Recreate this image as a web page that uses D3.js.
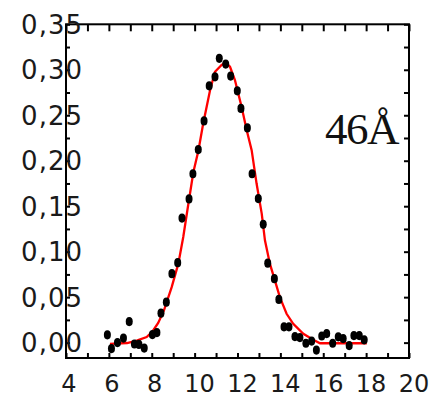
<!DOCTYPE html>
<html>
<head>
<meta charset="utf-8">
<script src="https://cdn.jsdelivr.net/npm/d3@7"></script>
<style>
  html, body { margin: 0; padding: 0; background: #fff; }
  svg { display: block; }
  .ylab { font-family: "DejaVu Sans", sans-serif; font-size: 26px; fill: #1a1a1a; }
  .xlab { font-family: "DejaVu Sans", sans-serif; font-size: 24px; fill: #1a1a1a; }
  .tag { font-family: "Liberation Serif", serif; font-size: 45px; fill: #111; letter-spacing: -1.5px; }
</style>
</head>
<body>
<div id="fig"><svg width="440" height="398"></svg></div>
<script>
// measured points (x, intensity)
const pointX = [5.93, 6.12, 6.40, 6.68, 6.95, 7.19, 7.40, 7.65, 8.03, 8.24,
                8.43, 8.68, 8.94, 9.21, 9.41, 9.74, 9.92, 10.17, 10.44, 10.68,
                10.95, 11.15, 11.45, 11.68, 11.99, 12.16, 12.46, 12.68, 12.97, 13.20,
                13.41, 13.72, 13.93, 14.17, 14.40, 14.68, 14.91, 15.19, 15.46, 15.68,
                15.93, 16.16, 16.44, 16.70, 16.93, 17.21, 17.43, 17.68, 17.91];
const pointY = [0.0086, -0.0065, 0.0001, 0.0050, 0.0232, -0.0015, -0.0020, -0.0060, 0.0089, 0.0110,
                0.0324, 0.0445, 0.0758, 0.0879, 0.1370, 0.1580, 0.1857, 0.2123, 0.2438, 0.2824,
                0.2923, 0.3126, 0.3063, 0.2931, 0.2769, 0.2575, 0.2361, 0.1857, 0.1584, 0.1301,
                0.0874, 0.0703, 0.0475, 0.0174, 0.0174, 0.0067, 0.0056, -0.0007, 0.0017, -0.0082,
                0.0073, 0.0100, -0.0007, 0.0064, 0.0045, -0.0032, 0.0078, 0.0078, 0.0031];

// fitted curve
const fitX = [6.05, 6.85, 7.30, 7.76, 8.01, 8.30, 8.57, 8.93, 9.24, 9.47,
              9.64, 9.94, 10.18, 10.40, 10.72, 10.95, 11.26, 11.45, 11.65, 11.88,
              12.19, 12.43, 12.66, 12.89, 13.13, 13.28, 13.51, 13.98, 14.29, 14.60,
              15.07, 15.53, 15.85, 16.63, 18.03];
const fitY = [-0.0013, -0.0004, 0.0023, 0.0062, 0.0115, 0.0216, 0.0354, 0.0610, 0.0868, 0.1161,
              0.1422, 0.1873, 0.2116, 0.2410, 0.2776, 0.2978, 0.3052, 0.3077, 0.3033, 0.2887,
              0.2593, 0.2336, 0.2116, 0.1749, 0.1419, 0.1125, 0.0868, 0.0497, 0.0317, 0.0207,
              0.0097, 0.0031, -0.0007, -0.0007, -0.0007];

const xTicks = [4, 6, 8, 10, 12, 14, 16, 18, 20];
const yTicks = [0, 0.05, 0.10, 0.15, 0.20, 0.25, 0.30, 0.35];
const label = "46\u00C5";

const svg = d3.select('#fig svg');
const plotLeft = 66, plotRight = 409, plotTop = 24.3, plotBottom = 358;

const x = d3.scaleLinear().domain([4, 20]).range([plotLeft, plotRight]);
const y = d3.scaleLinear().domain([-0.0169, 0.35]).range([plotBottom, plotTop]);

const minorX = d3.range(4, 20.5, 1);
const minorY = d3.range(0, 0.36, 0.025);

// inward ticks on every side
const tickAxis = (axis, tr, size) => {
    svg.append('g')
        .attr('transform', tr)
        .call(axis.tickSize(size).tickSizeOuter(0).tickFormat(''))
        .call(g => g.select('.domain').remove())
        .selectAll('line').attr('stroke', '#000').attr('stroke-width', 2);
};
tickAxis(d3.axisBottom(x).tickValues(minorX), `translate(0,${plotBottom})`, -5);
tickAxis(d3.axisTop(x).tickValues(minorX), `translate(0,${plotTop})`, -7);
tickAxis(d3.axisLeft(y).tickValues(minorY), `translate(${plotLeft},0)`, -4);
tickAxis(d3.axisRight(y).tickValues(minorY), `translate(${plotRight},0)`, -5);

svg.append('rect')
    .attr('x', plotLeft).attr('y', plotTop)
    .attr('width', plotRight - plotLeft).attr('height', plotBottom - plotTop)
    .attr('fill', 'none').attr('stroke', '#000').attr('stroke-width', 2);

// tick labels
svg.append('g').selectAll('text')
    .data(yTicks)
    .enter().append('text')
    .attr('class', 'ylab')
    .attr('x', plotLeft + 17)
    .attr('y', d => y(d) + 9.5)
    .attr('text-anchor', 'end')
    .attr('letter-spacing', 1)
    .text(d => d3.format('.2f')(d).replace('.', ','));

svg.append('g').selectAll('text')
    .data(xTicks)
    .enter().append('text')
    .attr('class', 'xlab')
    .attr('x', d => x(d) + (d >= 10 ? 5 : 3))
    .attr('y', plotBottom + 34)
    .attr('text-anchor', 'middle')
    .text(d => d);

// fit line
const line = d3.line().x(d => x(d[0])).y(d => y(d[1]));
svg.append('path')
    .datum(d3.zip(fitX, fitY))
    .attr('d', line)
    .attr('fill', 'none')
    .attr('stroke', '#ff0000')
    .attr('stroke-width', 2.3);

// data points
svg.append('g').selectAll('ellipse')
    .data(d3.zip(pointX, pointY))
    .enter().append('ellipse')
    .attr('cx', d => x(d[0]))
    .attr('cy', d => y(d[1]))
    .attr('rx', 3.5)
    .attr('ry', 4.6)
    .attr('fill', '#000');

svg.append('text')
    .attr('class', 'tag')
    .attr('x', 398)
    .attr('y', 144)
    .attr('text-anchor', 'end')
    .text(label);
</script>
</body>
</html>
